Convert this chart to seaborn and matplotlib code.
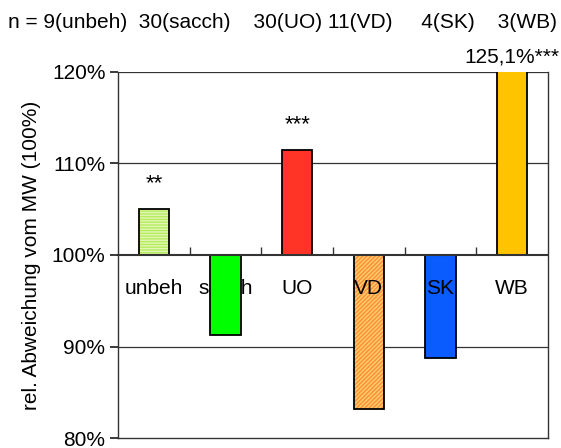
import matplotlib
matplotlib.use("Agg")
import matplotlib.pyplot as plt
import seaborn as sns
import pandas as pd
from matplotlib.ticker import FuncFormatter

categories = ["unbeh", "sacch", "UO", "VD", "SK", "WB"]
values = [105.0, 91.3, 111.5, 83.2, 88.7, 125.1]
n_counts = [9, 30, 30, 11, 4, 3]
stars = ["**", "", "***", "", "", "***"]
colors = ["#b5ec5c", "#00ff00", "#ff3326", "#ff8f45", "#0a5cff", "#ffc400"]
hatches = ["------", "", "", "////////", "", ""]
hatch_colors = ["#e2f7b5", "#00ff00", "#ff3326", "#ffd060", "#0a5cff", "#ffc400"]
label_on_top = [False, False, False, True, True, False]

sns.set_theme(style="white")
plt.rcParams["font.family"] = ["Liberation Sans", "DejaVu Sans"]
plt.rcParams.update({"text.color": "black", "axes.labelcolor": "black",
                     "xtick.color": "black", "ytick.color": "black"})
FS = 15

df = pd.DataFrame({"cat": categories, "dev": [v - 100 for v in values]})

fig = plt.figure(figsize=(5.61, 4.48), dpi=100)
ax = fig.add_axes([118 / 561, 1 - 438 / 448, 430 / 561, 366 / 448])

sns.barplot(data=df, x="cat", y="dev", hue="cat", palette=colors, legend=False,
            saturation=1, width=0.42, ax=ax, zorder=3, edgecolor="black", linewidth=1.3)
for p, h, hc in zip(ax.patches, hatches, hatch_colors):
    if h:
        p.set_hatch(h)
        p._hatch_color = matplotlib.colors.to_rgba(hc)

ax.set_ylim(-20, 20)
ax.set_xlim(-0.5, 5.5)
ax.set_yticks([-20, -10, 0, 10, 20])
ax.yaxis.set_major_formatter(FuncFormatter(lambda v, _: f"{int(round(v + 100))}%"))
ax.tick_params(axis="y", labelsize=FS, length=6, direction="out", left=True, pad=3, color="#222")
ax.set_xticks([])
ax.set_xlabel("")
ax.set_ylabel("rel. Abweichung vom MW (100%)", fontsize=FS, labelpad=8)
for sp in ax.spines.values():
    sp.set_color("#333")
    sp.set_linewidth(1.0)
ax.spines["top"].set_visible(False)
for yv in [-10, 10, 20]:
    ax.axhline(yv, color="#333", linewidth=0.9, zorder=1)
ax.axhline(0, color="#333", linewidth=1.5, zorder=4)

# Boundary ticks along the 100% line and category labels
sec = ax.secondary_xaxis(0.5)
sec.set_xticks([0.5, 1.5, 2.5, 3.5, 4.5])
sec.set_xticklabels([])
sec.tick_params(axis="x", length=6, direction="out", color="#333", width=1.0)
sec.spines["bottom"].set_visible(False)
for i, c in enumerate(categories):
    ax.text(i, -3.7, c, ha="center", va="center", fontsize=FS,
            zorder=5 if label_on_top[i] else 2)

# significance stars
for i, (s, v) in enumerate(zip(stars, values)):
    if s and v < 120:
        ax.text(i, v - 100 + 1.6, s, ha="center", va="bottom", fontsize=FS + 1)
fig.text(559 / 561, 1 - 57 / 448, f"{values[5]:.1f}".replace(".", ",") + "%" + stars[5],
         ha="right", va="center", fontsize=FS)

header = "n = " + f"{n_counts[0]}({categories[0]})  {n_counts[1]}({categories[1]})    " \
         f"{n_counts[2]}({categories[2]}) {n_counts[3]}({categories[3]})     " \
         f"{n_counts[4]}({categories[4]})    {n_counts[5]}({categories[5]})"
fig.text(8 / 561, 1 - 22 / 448, header, ha="left", va="center", fontsize=FS)

fig.savefig("out.png", dpi=100)
